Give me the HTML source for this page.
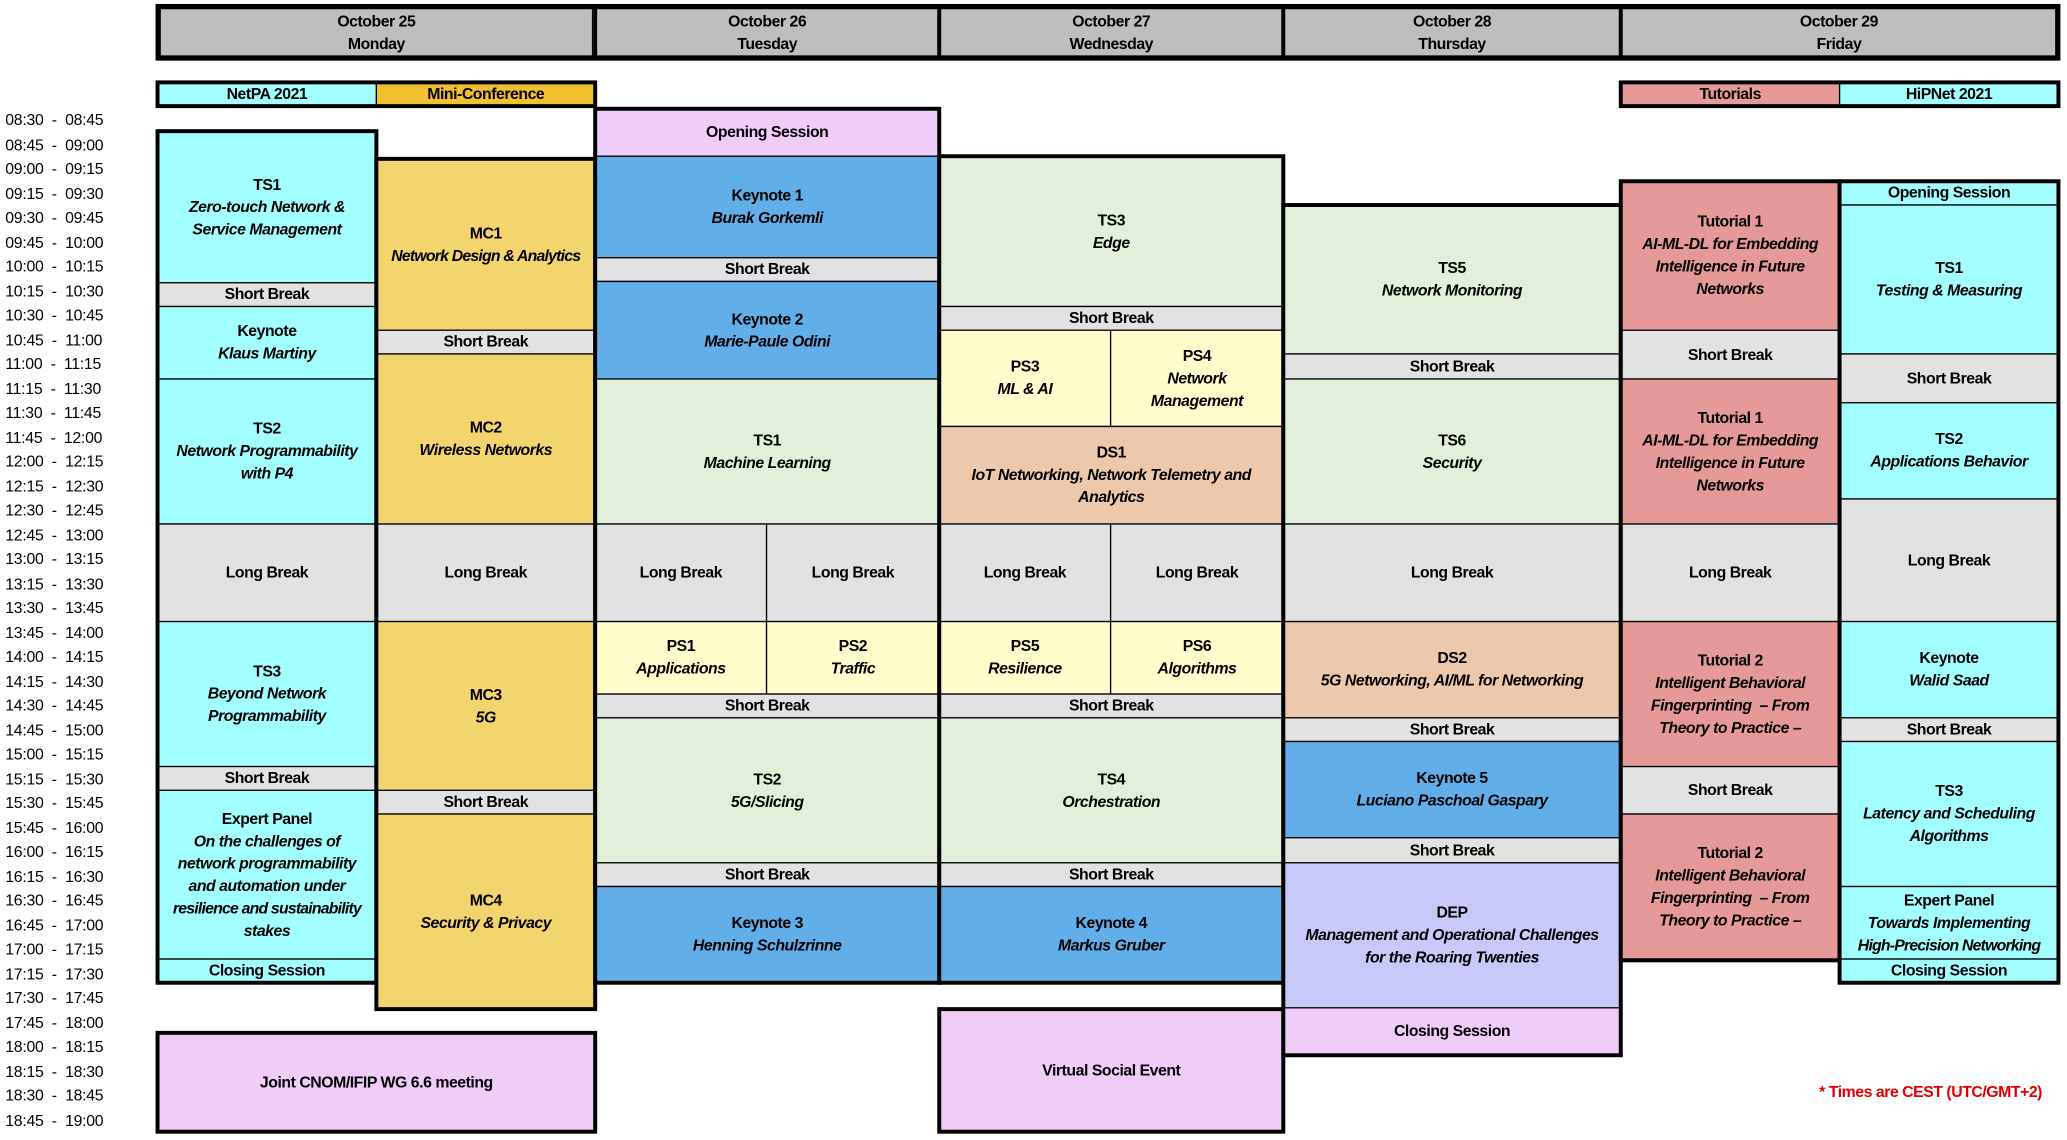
<!DOCTYPE html>
<html><head><meta charset="utf-8">
<style>
html,body{margin:0;padding:0;background:#fff;width:2067px;height:1140px;overflow:hidden}
#w{position:absolute;left:0;top:0;width:1568px;height:865px;transform:scale(1.31824);transform-origin:0 0;font-family:"Liberation Sans Narrow","Liberation Sans",sans-serif}
.c{position:absolute;box-sizing:border-box;border:1.5px solid #000;display:flex;flex-direction:column;justify-content:center;align-items:center;text-align:center;font-weight:bold;font-size:12px;letter-spacing:-0.35px;line-height:17px;color:#000;overflow:hidden;white-space:nowrap}
.c i{display:block}
.g{position:absolute;box-sizing:border-box;border:3px solid #000}
.t{position:absolute;left:4px;font-size:12px;line-height:14px;color:#000;letter-spacing:-0.2px}
.cy{background:#a3ffff}.go{background:#f2d56e}.la{background:#f0ccf8}.bl{background:#62aee8}
.gr{background:#e2efda}.br{background:#e2e2e2}.ye{background:#fffdcc}.pe{background:#ecc9ad}
.dp{background:#c9c9f9}.tu{background:#e69999}.hd{background:#bebebe}
</style></head><body><div id="w">
<!-- times -->
<div class="t" style="top:84px">08:30 &nbsp;- &nbsp;08:45</div>
<div class="t" style="top:102.5px">08:45 &nbsp;- &nbsp;09:00</div>
<div class="t" style="top:121px">09:00 &nbsp;- &nbsp;09:15</div>
<div class="t" style="top:139.5px">09:15 &nbsp;- &nbsp;09:30</div>
<div class="t" style="top:158px">09:30 &nbsp;- &nbsp;09:45</div>
<div class="t" style="top:176.5px">09:45 &nbsp;- &nbsp;10:00</div>
<div class="t" style="top:195px">10:00 &nbsp;- &nbsp;10:15</div>
<div class="t" style="top:213.5px">10:15 &nbsp;- &nbsp;10:30</div>
<div class="t" style="top:232px">10:30 &nbsp;- &nbsp;10:45</div>
<div class="t" style="top:250.5px">10:45 &nbsp;- &nbsp;11:00</div>
<div class="t" style="top:269px">11:00 &nbsp;- &nbsp;11:15</div>
<div class="t" style="top:287.5px">11:15 &nbsp;- &nbsp;11:30</div>
<div class="t" style="top:306px">11:30 &nbsp;- &nbsp;11:45</div>
<div class="t" style="top:324.5px">11:45 &nbsp;- &nbsp;12:00</div>
<div class="t" style="top:343px">12:00 &nbsp;- &nbsp;12:15</div>
<div class="t" style="top:361.5px">12:15 &nbsp;- &nbsp;12:30</div>
<div class="t" style="top:380px">12:30 &nbsp;- &nbsp;12:45</div>
<div class="t" style="top:398.5px">12:45 &nbsp;- &nbsp;13:00</div>
<div class="t" style="top:417px">13:00 &nbsp;- &nbsp;13:15</div>
<div class="t" style="top:435.5px">13:15 &nbsp;- &nbsp;13:30</div>
<div class="t" style="top:454px">13:30 &nbsp;- &nbsp;13:45</div>
<div class="t" style="top:472.5px">13:45 &nbsp;- &nbsp;14:00</div>
<div class="t" style="top:491px">14:00 &nbsp;- &nbsp;14:15</div>
<div class="t" style="top:509.5px">14:15 &nbsp;- &nbsp;14:30</div>
<div class="t" style="top:528px">14:30 &nbsp;- &nbsp;14:45</div>
<div class="t" style="top:546.5px">14:45 &nbsp;- &nbsp;15:00</div>
<div class="t" style="top:565px">15:00 &nbsp;- &nbsp;15:15</div>
<div class="t" style="top:583.5px">15:15 &nbsp;- &nbsp;15:30</div>
<div class="t" style="top:602px">15:30 &nbsp;- &nbsp;15:45</div>
<div class="t" style="top:620.5px">15:45 &nbsp;- &nbsp;16:00</div>
<div class="t" style="top:639px">16:00 &nbsp;- &nbsp;16:15</div>
<div class="t" style="top:657.5px">16:15 &nbsp;- &nbsp;16:30</div>
<div class="t" style="top:676px">16:30 &nbsp;- &nbsp;16:45</div>
<div class="t" style="top:694.5px">16:45 &nbsp;- &nbsp;17:00</div>
<div class="t" style="top:713px">17:00 &nbsp;- &nbsp;17:15</div>
<div class="t" style="top:731.5px">17:15 &nbsp;- &nbsp;17:30</div>
<div class="t" style="top:750px">17:30 &nbsp;- &nbsp;17:45</div>
<div class="t" style="top:768.5px">17:45 &nbsp;- &nbsp;18:00</div>
<div class="t" style="top:787px">18:00 &nbsp;- &nbsp;18:15</div>
<div class="t" style="top:805.5px">18:15 &nbsp;- &nbsp;18:30</div>
<div class="t" style="top:824px">18:30 &nbsp;- &nbsp;18:45</div>
<div class="t" style="top:842.5px">18:45 &nbsp;- &nbsp;19:00</div>

<!-- day headers -->
<div class="c hd" style="left:119px;top:4px;width:333px;height:41px;border-width:3px">October 25<br>Monday</div>
<div class="c hd" style="left:450px;top:4px;width:264px;height:41px;border-width:3px">October 26<br>Tuesday</div>
<div class="c hd" style="left:711px;top:4px;width:264px;height:41px;border-width:3px">October 27<br>Wednesday</div>
<div class="c hd" style="left:972px;top:4px;width:259px;height:41px;border-width:3px">October 28<br>Thursday</div>
<div class="c hd" style="left:1228px;top:4px;width:334px;height:41px;border-width:3px">October 29<br>Friday</div>
<div class="g" style="left:118px;top:3px;width:1445px;height:43px"></div>

<!-- track headers -->
<div class="c cy" style="left:119px;top:62px;width:167px;height:19px">NetPA 2021</div>
<div class="c" style="left:285px;top:62px;width:167px;height:19px;background:#f0c030">Mini-Conference</div>
<div class="g" style="left:118px;top:61px;width:335px;height:21px"></div>
<div class="c tu" style="left:1229px;top:62px;width:167px;height:19px">Tutorials</div>
<div class="c cy" style="left:1395px;top:62px;width:167px;height:19px">HiPNet 2021</div>
<div class="g" style="left:1228px;top:61px;width:335px;height:21px"></div>

<!-- Monday NetPA -->
<div class="c cy" style="left:119px;top:99px;width:167px;height:116px">TS1<i>Zero-touch Network &amp;</i><i>Service Management</i></div>
<div class="c br" style="left:119px;top:214px;width:167px;height:19px">Short Break</div>
<div class="c cy" style="left:119px;top:232px;width:167px;height:56px">Keynote<i>Klaus Martiny</i></div>
<div class="c cy" style="left:119px;top:287px;width:167px;height:111px">TS2<i>Network Programmability</i><i>with P4</i></div>
<div class="c br" style="left:119px;top:397px;width:167px;height:75px">Long Break</div>
<div class="c cy" style="left:119px;top:471px;width:167px;height:111px">TS3<i>Beyond Network</i><i>Programmability</i></div>
<div class="c br" style="left:119px;top:581px;width:167px;height:19px">Short Break</div>
<div class="c cy" style="left:119px;top:599px;width:167px;height:129px">Expert Panel<i>On the challenges of</i><i>network programmability</i><i>and automation under</i><i style="letter-spacing:-0.6px">resilience and sustainability</i><i>stakes</i></div>
<div class="c cy" style="left:119px;top:727px;width:167px;height:19px">Closing Session</div>
<div class="g" style="left:118px;top:98px;width:169px;height:649px"></div>

<!-- Mini-conference -->
<div class="c go" style="left:285px;top:120px;width:167px;height:131px">MC1<i style="letter-spacing:-0.6px">Network Design &amp; Analytics</i></div>
<div class="c br" style="left:285px;top:250px;width:167px;height:19px">Short Break</div>
<div class="c go" style="left:285px;top:268px;width:167px;height:130px">MC2<i>Wireless Networks</i></div>
<div class="c br" style="left:285px;top:397px;width:167px;height:75px">Long Break</div>
<div class="c go" style="left:285px;top:471px;width:167px;height:129px">MC3<i>5G</i></div>
<div class="c br" style="left:285px;top:599px;width:167px;height:19px">Short Break</div>
<div class="c go" style="left:285px;top:617px;width:167px;height:149px">MC4<i>Security &amp; Privacy</i></div>
<div class="g" style="left:284px;top:119px;width:169px;height:648px"></div>

<div class="c la" style="left:119px;top:783px;width:333px;height:76px">Joint CNOM/IFIP WG 6.6 meeting</div>
<div class="g" style="left:118px;top:782px;width:335px;height:78px"></div>

<!-- Tuesday -->
<div class="c la" style="left:451px;top:82px;width:262px;height:37px">Opening Session</div>
<div class="c bl" style="left:451px;top:118px;width:262px;height:78px">Keynote 1<i>Burak Gorkemli</i></div>
<div class="c br" style="left:451px;top:195px;width:262px;height:19px">Short Break</div>
<div class="c bl" style="left:451px;top:213px;width:262px;height:75px">Keynote 2<i>Marie-Paule Odini</i></div>
<div class="c gr" style="left:451px;top:287px;width:262px;height:111px">TS1<i>Machine Learning</i></div>
<div class="c br" style="left:451px;top:397px;width:131px;height:75px">Long Break</div>
<div class="c br" style="left:581px;top:397px;width:132px;height:75px">Long Break</div>
<div class="c ye" style="left:451px;top:471px;width:131px;height:56px">PS1<i>Applications</i></div>
<div class="c ye" style="left:581px;top:471px;width:132px;height:56px">PS2<i>Traffic</i></div>
<div class="c br" style="left:451px;top:526px;width:262px;height:19px">Short Break</div>
<div class="c gr" style="left:451px;top:544px;width:262px;height:111px">TS2<i>5G/Slicing</i></div>
<div class="c br" style="left:451px;top:654px;width:262px;height:19px">Short Break</div>
<div class="c bl" style="left:451px;top:672px;width:262px;height:74px">Keynote 3<i>Henning Schulzrinne</i></div>
<div class="g" style="left:450px;top:81px;width:264px;height:666px"></div>

<!-- Wednesday -->
<div class="c gr" style="left:712px;top:118px;width:262px;height:115px">TS3<i>Edge</i></div>
<div class="c br" style="left:712px;top:232px;width:262px;height:19px">Short Break</div>
<div class="c ye" style="left:712px;top:250px;width:131px;height:74px">PS3<i>ML &amp; AI</i></div>
<div class="c ye" style="left:842px;top:250px;width:132px;height:74px">PS4<i>Network</i><i>Management</i></div>
<div class="c pe" style="left:712px;top:323px;width:262px;height:75px">DS1<i>IoT Networking, Network Telemetry and</i><i>Analytics</i></div>
<div class="c br" style="left:712px;top:397px;width:131px;height:75px">Long Break</div>
<div class="c br" style="left:842px;top:397px;width:132px;height:75px">Long Break</div>
<div class="c ye" style="left:712px;top:471px;width:131px;height:56px">PS5<i>Resilience</i></div>
<div class="c ye" style="left:842px;top:471px;width:132px;height:56px">PS6<i>Algorithms</i></div>
<div class="c br" style="left:712px;top:526px;width:262px;height:19px">Short Break</div>
<div class="c gr" style="left:712px;top:544px;width:262px;height:111px">TS4<i>Orchestration</i></div>
<div class="c br" style="left:712px;top:654px;width:262px;height:19px">Short Break</div>
<div class="c bl" style="left:712px;top:672px;width:262px;height:74px">Keynote 4<i>Markus Gruber</i></div>
<div class="g" style="left:711px;top:117px;width:264px;height:630px"></div>
<div class="c la" style="left:712px;top:765px;width:262px;height:94px">Virtual Social Event</div>
<div class="g" style="left:711px;top:764px;width:264px;height:96px"></div>

<!-- Thursday -->
<div class="c gr" style="left:973px;top:155px;width:257px;height:114px">TS5<i>Network Monitoring</i></div>
<div class="c br" style="left:973px;top:268px;width:257px;height:20px">Short Break</div>
<div class="c gr" style="left:973px;top:287px;width:257px;height:111px">TS6<i>Security</i></div>
<div class="c br" style="left:973px;top:397px;width:257px;height:75px">Long Break</div>
<div class="c pe" style="left:973px;top:471px;width:257px;height:74px">DS2<i>5G Networking, AI/ML for Networking</i></div>
<div class="c br" style="left:973px;top:544px;width:257px;height:19px">Short Break</div>
<div class="c bl" style="left:973px;top:562px;width:257px;height:74px">Keynote 5<i>Luciano Paschoal Gaspary</i></div>
<div class="c br" style="left:973px;top:635px;width:257px;height:20px">Short Break</div>
<div class="c dp" style="left:973px;top:654px;width:257px;height:111px">DEP<i>Management and Operational Challenges</i><i>for the Roaring Twenties</i></div>
<div class="c la" style="left:973px;top:764px;width:257px;height:37px">Closing Session</div>
<div class="g" style="left:972px;top:154px;width:259px;height:648px"></div>

<!-- Friday Tutorials -->
<div class="c tu" style="left:1229px;top:137px;width:167px;height:114px">Tutorial 1<i>AI-ML-DL for Embedding</i><i>Intelligence in Future</i><i>Networks</i></div>
<div class="c br" style="left:1229px;top:250px;width:167px;height:38px">Short Break</div>
<div class="c tu" style="left:1229px;top:287px;width:167px;height:111px">Tutorial 1<i>AI-ML-DL for Embedding</i><i>Intelligence in Future</i><i>Networks</i></div>
<div class="c br" style="left:1229px;top:397px;width:167px;height:75px">Long Break</div>
<div class="c tu" style="left:1229px;top:471px;width:167px;height:111px">Tutorial 2<i>Intelligent Behavioral</i><i>Fingerprinting &nbsp;– From</i><i>Theory to Practice –</i></div>
<div class="c br" style="left:1229px;top:581px;width:167px;height:37px">Short Break</div>
<div class="c tu" style="left:1229px;top:617px;width:167px;height:111px">Tutorial 2<i>Intelligent Behavioral</i><i>Fingerprinting &nbsp;– From</i><i>Theory to Practice –</i></div>
<div class="g" style="left:1228px;top:136px;width:169px;height:594px"></div>

<!-- HiPNet -->
<div class="c cy" style="left:1395px;top:137px;width:167px;height:19px">Opening Session</div>
<div class="c cy" style="left:1395px;top:155px;width:167px;height:114px">TS1<i>Testing &amp; Measuring</i></div>
<div class="c br" style="left:1395px;top:268px;width:167px;height:38px">Short Break</div>
<div class="c cy" style="left:1395px;top:305px;width:167px;height:74px">TS2<i>Applications Behavior</i></div>
<div class="c br" style="left:1395px;top:378px;width:167px;height:94px">Long Break</div>
<div class="c cy" style="left:1395px;top:471px;width:167px;height:74px">Keynote<i>Walid Saad</i></div>
<div class="c br" style="left:1395px;top:544px;width:167px;height:19px">Short Break</div>
<div class="c cy" style="left:1395px;top:562px;width:167px;height:111px">TS3<i>Latency and Scheduling</i><i>Algorithms</i></div>
<div class="c cy" style="left:1395px;top:672px;width:167px;height:56px">Expert Panel<i>Towards Implementing</i><i style="letter-spacing:-0.6px">High-Precision Networking</i></div>
<div class="c cy" style="left:1395px;top:727px;width:167px;height:19px">Closing Session</div>
<div class="g" style="left:1394px;top:136px;width:169px;height:611px"></div>

<div style="position:absolute;left:1380px;top:821px;font-size:12px;letter-spacing:-0.35px;font-weight:bold;color:#e00000;white-space:nowrap">* Times are CEST (UTC/GMT+2)</div>
</div></body></html>
